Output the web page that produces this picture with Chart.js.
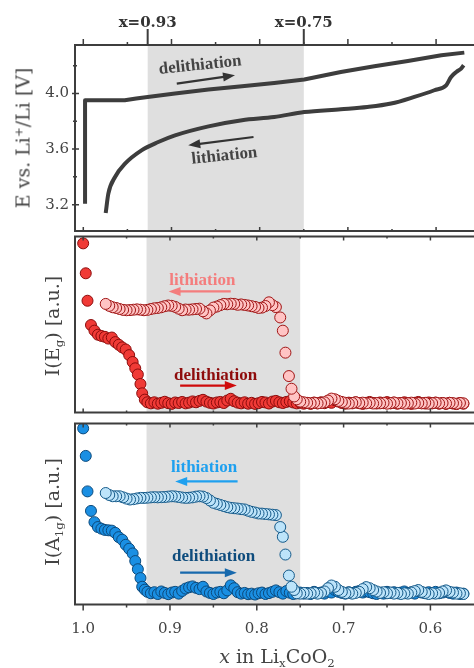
<!DOCTYPE html>
<html>
<head>
<meta charset="utf-8">
<script src="https://cdn.jsdelivr.net/npm/chart.js@4.4.0/dist/chart.umd.min.js"></script>
<style>
  body { margin: 0; width: 474px; height: 668px; overflow: hidden; background: #fff; position: relative; }
  canvas { position: absolute; left: 0; }
  .title { position: absolute; font-family: 'DejaVu Serif', serif; font-size: 19px; color: #444; white-space: nowrap; line-height: 1; }
  .rot { transform: translate(-50%, -50%) rotate(-90deg); }
  .flat { transform: translate(-50%, -50%); }
  .title sub, .title sup { font-size: 0.62em; line-height: 0; }
</style>
</head>
<body>
<canvas id="chartE" width="489" height="232" style="top:0"></canvas>
<canvas id="chartEg" width="489" height="189" style="top:230px"></canvas>
<canvas id="chartA1g" width="489" height="251" style="top:417px"></canvas>

<div class="title rot" style="left:23px;top:138px">E vs. Li<sup>+</sup>/Li [V]</div>
<div class="title rot" style="left:52px;top:326px">I(E<sub>g</sub>) [a.u.]</div>
<div class="title rot" style="left:52px;top:512px">I(A<sub>1g</sub>) [a.u.]</div>
<div class="title flat" style="left:277px;top:656px"><i>x</i> in Li<sub>x</sub>CoO<sub>2</sub></div>

<script>
// axis ticks
const xTickValues = [1.0, 0.9, 0.8, 0.7, 0.6];
const xMinorValues = [0.95, 0.85, 0.75, 0.65];
const markerValues = [0.927, 0.75];
const markerLabels = ['x=0.93', 'x=0.75'];
const eTickValues = [3.2, 3.6, 4.0];
const eMinorValues = [3.4, 3.8, 4.2];

// voltage curves
const delithVx = [0.998, 0.998, 0.975, 0.953, 0.940, 0.927, 0.896, 0.858, 0.820, 0.7835, 0.7495, 0.708, 0.670, 0.632, 0.594, 0.568];
const delithV = [3.207, 3.952, 3.952, 3.952, 3.965, 3.976, 4.000, 4.029, 4.053, 4.077, 4.101, 4.156, 4.197, 4.235, 4.276, 4.295];
const lithVx = [0.5687, 0.5716, 0.577, 0.583, 0.5886, 0.602, 0.6246, 0.651, 0.678, 0.708, 0.7495, 0.7835, 0.820, 0.858, 0.896, 0.915, 0.934, 0.9527, 0.964, 0.9716, 0.9746];
const lithV = [4.204, 4.180, 4.156, 4.120, 4.060, 4.024, 3.976, 3.928, 3.903, 3.887, 3.867, 3.831, 3.808, 3.764, 3.699, 3.651, 3.591, 3.495, 3.399, 3.279, 3.139];

// Raman intensities, delithiation (x decreasing)
const delithX = [1.000, 0.997, 0.995, 0.991, 0.987, 0.983, 0.979, 0.975, 0.971, 0.967, 0.963, 0.959, 0.955, 0.951, 0.947, 0.943, 0.940, 0.937, 0.934, 0.932, 0.929, 0.926,
  0.922, 0.918, 0.914, 0.910, 0.906, 0.902, 0.898, 0.894, 0.890,
  0.886, 0.882, 0.878, 0.874, 0.870, 0.866, 0.862, 0.858, 0.854,
  0.850, 0.846, 0.842, 0.838, 0.834, 0.830, 0.826, 0.822, 0.818,
  0.814, 0.810, 0.806, 0.802, 0.798, 0.794, 0.790, 0.786, 0.782,
  0.778, 0.774, 0.770, 0.766, 0.762, 0.758, 0.754, 0.750, 0.746,
  0.742, 0.738, 0.734, 0.730, 0.726, 0.722, 0.718, 0.714, 0.710,
  0.706, 0.702, 0.698, 0.694, 0.690, 0.686, 0.682, 0.678, 0.674,
  0.670, 0.666, 0.662, 0.658, 0.654, 0.650, 0.646, 0.642, 0.638,
  0.634, 0.630, 0.626, 0.622, 0.618, 0.614, 0.610, 0.606, 0.602,
  0.598, 0.594, 0.590, 0.586, 0.582, 0.578, 0.574, 0.570, 0.566,
  0.562];
const egDelith = [0.961, 0.791, 0.635, 0.497, 0.465, 0.442, 0.435, 0.430, 0.420, 0.426, 0.400, 0.385, 0.370, 0.358, 0.326, 0.287, 0.251, 0.216, 0.162, 0.109, 0.073, 0.058,
  0.052, 0.058, 0.050, 0.055, 0.061, 0.053, 0.049, 0.057, 0.054,
  0.060, 0.052, 0.056, 0.063, 0.058, 0.066, 0.072, 0.062, 0.055,
  0.051, 0.057, 0.060, 0.054, 0.068, 0.078, 0.064, 0.056, 0.052,
  0.058, 0.050, 0.055, 0.049, 0.053, 0.060, 0.057, 0.051, 0.062,
  0.066, 0.058, 0.054, 0.060, 0.064, 0.057, 0.052, 0.056, 0.050,
  0.054, 0.049, 0.056, 0.052, 0.058, 0.053, 0.060, 0.055, 0.070,
  0.062, 0.054, 0.050, 0.056, 0.052, 0.058, 0.053, 0.049, 0.055,
  0.060, 0.054, 0.051, 0.057, 0.053, 0.059, 0.052, 0.056, 0.050,
  0.054, 0.058, 0.052, 0.049, 0.055, 0.060, 0.053, 0.051, 0.057,
  0.052, 0.056, 0.050, 0.054, 0.049, 0.055, 0.051, 0.048, 0.053,
  0.050];
const a1gDelith = [0.973, 0.821, 0.625, 0.517, 0.455, 0.428, 0.419, 0.412, 0.410, 0.408, 0.396, 0.372, 0.358, 0.330, 0.308, 0.282, 0.240, 0.195, 0.146, 0.098, 0.082, 0.070,
  0.062, 0.068, 0.058, 0.072, 0.064, 0.057, 0.066, 0.070, 0.060,
  0.075, 0.088, 0.095, 0.100, 0.092, 0.085, 0.098, 0.072, 0.064,
  0.058, 0.066, 0.070, 0.062, 0.078, 0.106, 0.090, 0.068, 0.060,
  0.064, 0.057, 0.060, 0.055, 0.062, 0.066, 0.058, 0.063, 0.070,
  0.078, 0.068, 0.060, 0.074, 0.065, 0.058, 0.062, 0.066, 0.060,
  0.064, 0.058, 0.070, 0.062, 0.066, 0.060, 0.072, 0.066, 0.080,
  0.070, 0.064, 0.060, 0.068, 0.062, 0.070, 0.075, 0.066, 0.072,
  0.068, 0.062, 0.058, 0.066, 0.060, 0.070, 0.064, 0.068, 0.062,
  0.066, 0.072, 0.064, 0.068, 0.060, 0.074, 0.066, 0.062, 0.068,
  0.064, 0.070, 0.062, 0.066, 0.072, 0.064, 0.060, 0.066, 0.058,
  0.060];

// Raman intensities, lithiation (x increasing)
const lithX = [0.562, 0.566, 0.570, 0.574, 0.578, 0.582, 0.586, 0.590, 0.594,
  0.598, 0.602, 0.606, 0.610, 0.614, 0.618, 0.622, 0.626, 0.630,
  0.634, 0.638, 0.642, 0.646, 0.650, 0.654, 0.658, 0.662, 0.666,
  0.670, 0.674, 0.678, 0.682, 0.686, 0.690, 0.694, 0.698, 0.702,
  0.706, 0.710, 0.714, 0.718, 0.722, 0.726, 0.730, 0.734, 0.738,
  0.742, 0.746, 0.750,
  0.754, 0.757, 0.760, 0.763, 0.767, 0.770, 0.773,
  0.778, 0.782, 0.786, 0.790, 0.794, 0.798, 0.802, 0.806, 0.810, 0.814,
  0.818, 0.822, 0.826, 0.830, 0.834, 0.838, 0.842, 0.846, 0.850, 0.854,
  0.858, 0.862, 0.866, 0.870, 0.874, 0.878, 0.882, 0.886, 0.890, 0.894,
  0.898, 0.902, 0.906, 0.910, 0.914, 0.918, 0.922, 0.926, 0.930, 0.934,
  0.938, 0.942, 0.946, 0.950, 0.954, 0.958, 0.962, 0.966, 0.970, 0.974];
const egLith = [0.052, 0.054, 0.050, 0.053, 0.055, 0.051, 0.054, 0.052, 0.056,
  0.053, 0.050, 0.055, 0.052, 0.054, 0.051, 0.056, 0.053, 0.050,
  0.054, 0.052, 0.057, 0.053, 0.050, 0.055, 0.052, 0.054, 0.051,
  0.055, 0.052, 0.056, 0.053, 0.058, 0.054, 0.051, 0.055, 0.060,
  0.066, 0.075, 0.079, 0.068, 0.058, 0.054, 0.052, 0.056, 0.053,
  0.055, 0.058, 0.062,
  0.075, 0.091, 0.135, 0.207, 0.340, 0.465, 0.540,
  0.599, 0.610, 0.626, 0.605, 0.596, 0.594, 0.600, 0.604, 0.608, 0.611,
  0.614, 0.612, 0.617, 0.618, 0.615, 0.617, 0.610, 0.602, 0.596, 0.580,
  0.563, 0.575, 0.590, 0.588, 0.586, 0.584, 0.585, 0.581, 0.590, 0.600,
  0.606, 0.608, 0.604, 0.598, 0.594, 0.592, 0.588, 0.583, 0.581, 0.584,
  0.586, 0.584, 0.582, 0.581, 0.583, 0.588, 0.594, 0.598, 0.606, 0.617];
const a1gLith = [0.058, 0.062, 0.060, 0.066, 0.070, 0.078, 0.072, 0.064, 0.060,
  0.062, 0.058, 0.064, 0.070, 0.080, 0.074, 0.066, 0.060, 0.062,
  0.058, 0.064, 0.060, 0.066, 0.062, 0.068, 0.064, 0.072, 0.080,
  0.090, 0.096, 0.085, 0.070, 0.064, 0.060, 0.066, 0.062, 0.070,
  0.080, 0.098, 0.105, 0.090, 0.072, 0.064, 0.060, 0.066, 0.062,
  0.060, 0.064, 0.060,
  0.062, 0.080, 0.098, 0.160, 0.276, 0.374, 0.428,
  0.494, 0.496, 0.498, 0.500, 0.502, 0.503, 0.508, 0.512, 0.518, 0.525,
  0.527, 0.530, 0.532, 0.534, 0.538, 0.544, 0.550, 0.556, 0.562, 0.575,
  0.588, 0.596, 0.598, 0.596, 0.592, 0.590, 0.589, 0.591, 0.594, 0.597,
  0.598, 0.596, 0.594, 0.593, 0.592, 0.593, 0.592, 0.590, 0.589, 0.589,
  0.586, 0.582, 0.580, 0.585, 0.592, 0.598, 0.598, 0.598, 0.605, 0.616];

const xMin = 0.54;
const xMax = 1.0094;
const ink = '#3d3d3d';
const serif = "'DejaVu Serif', serif";
const noteFont = "bold 17px 'Liberation Serif', serif";

const toPoints = (xs, ys) => xs.map((x, i) => ({x: x, y: ys[i]}));

function drawArrow(ctx, x0, y0, x1, y1, color) {
    const ang = Math.atan2(y1 - y0, x1 - x0);
    const len = 12, half = 4.5;
    ctx.save();
    ctx.strokeStyle = color;
    ctx.fillStyle = color;
    ctx.lineWidth = 2.2;
    ctx.beginPath();
    ctx.moveTo(x0, y0);
    ctx.lineTo(x1 - Math.cos(ang) * len * 0.8, y1 - Math.sin(ang) * len * 0.8);
    ctx.stroke();
    ctx.beginPath();
    ctx.moveTo(x1, y1);
    ctx.lineTo(x1 - Math.cos(ang) * len - Math.sin(ang) * half, y1 - Math.sin(ang) * len + Math.cos(ang) * half);
    ctx.lineTo(x1 - Math.cos(ang) * len + Math.sin(ang) * half, y1 - Math.sin(ang) * len - Math.cos(ang) * half);
    ctx.closePath();
    ctx.fill();
    ctx.restore();
}

const panelDecor = {
    id: 'panelDecor',
    beforeDatasetsDraw(chart) {
        const {ctx, chartArea: a, scales: {x}} = chart;
        const b0 = x.getPixelForValue(markerValues[0]);
        const b1 = x.getPixelForValue(markerValues[1]);
        ctx.save();
        ctx.fillStyle = '#dfdfdf';
        ctx.fillRect(b0, a.top, b1 - b0, a.bottom - a.top);
        ctx.restore();
    },
    afterDatasetsDraw(chart, args, o) {
        const {ctx, chartArea: a, scales: {x, y}} = chart;
        ctx.save();
        ctx.strokeStyle = ink;
        ctx.lineWidth = 2;
        ctx.beginPath();
        ctx.moveTo(a.left, a.top); ctx.lineTo(a.right, a.top);
        ctx.moveTo(a.left, a.bottom); ctx.lineTo(a.right, a.bottom);
        ctx.moveTo(a.left, a.top - 1); ctx.lineTo(a.left, a.bottom + 1);
        ctx.stroke();

        ctx.lineWidth = 1.5;
        ctx.beginPath();
        const mark = (px, y0, y1) => { ctx.moveTo(px, y0); ctx.lineTo(px, y1); };
        xTickValues.forEach(v => {
            const px = x.getPixelForValue(v);
            mark(px, a.top, o.topOut ? a.top - 6 : a.top + 4);
            mark(px, a.bottom, o.bottomOut ? a.bottom + 6 : a.bottom - 4);
        });
        xMinorValues.forEach(v => {
            const px = x.getPixelForValue(v);
            mark(px, a.top, o.topOut ? a.top - 3 : a.top + 2);
            mark(px, a.bottom, o.bottomOut ? a.bottom + 3 : a.bottom - 2);
        });
        if (o.yTicks) {
            eTickValues.forEach(v => {
                const py = y.getPixelForValue(v);
                ctx.moveTo(a.left - 3, py); ctx.lineTo(a.left + 4, py);
            });
            eMinorValues.forEach(v => {
                const py = y.getPixelForValue(v);
                ctx.moveTo(a.left - 2, py); ctx.lineTo(a.left + 2, py);
            });
        }
        ctx.stroke();
        if (o.topOut) {
            ctx.lineWidth = 2;
            ctx.beginPath();
            markerValues.forEach(v => mark(x.getPixelForValue(v), a.top, a.top - 16));
            ctx.stroke();
        }

        (o.notes || []).forEach(n => {
            ctx.save();
            ctx.translate(x.getPixelForValue(n.at[0]), y.getPixelForValue(n.at[1]));
            ctx.rotate((n.angle || 0) * Math.PI / 180);
            ctx.font = noteFont;
            ctx.fillStyle = n.color;
            ctx.textAlign = 'center';
            ctx.textBaseline = 'middle';
            ctx.fillText(n.text, 0, 0);
            ctx.restore();
        });
        (o.arrows || []).forEach(r => {
            drawArrow(ctx, x.getPixelForValue(r.from[0]), y.getPixelForValue(r.from[1]),
                x.getPixelForValue(r.to[0]), y.getPixelForValue(r.to[1]), r.color);
        });
        ctx.restore();
    }
};

const xHidden = {type: 'linear', reverse: true, min: xMin, max: xMax, display: false};
const zeroPad = (s) => { s.paddingLeft = 0; s.paddingRight = 0; s.paddingTop = 0; s.paddingBottom = 0; };

function makeChart(id, datasets, scales, padding, decor) {
    return new Chart(document.getElementById(id), {
        type: 'scatter',
        data: {datasets: datasets},
        options: {
            responsive: false,
            animation: false,
            events: [],
            layout: {padding: padding},
            plugins: {
                legend: {display: false},
                tooltip: {enabled: false},
                panelDecor: decor
            },
            scales: scales
        },
        plugins: [panelDecor]
    });
}

function dots(data, fill, edge, order) {
    return {
        data: data,
        order: order,
        pointRadius: 5.5,
        pointBorderWidth: 1,
        pointBackgroundColor: fill,
        pointBorderColor: edge,
        showLine: false
    };
}

// voltage panel
makeChart('chartE', [
    {data: toPoints(delithVx, delithV), showLine: true, pointRadius: 0, borderColor: ink, borderWidth: 4, borderJoinStyle: 'round'},
    {data: toPoints(lithVx, lithV), showLine: true, pointRadius: 0, borderColor: ink, borderWidth: 4, borderJoinStyle: 'round', cubicInterpolationMode: 'monotone'}
], {
    x: xHidden,
    xt: {
        type: 'linear', position: 'top', reverse: true, min: xMin, max: xMax,
        afterBuildTicks: (s) => { s.ticks = markerValues.map(v => ({value: v})); },
        afterFit: (s) => { zeroPad(s); s.height = 45; },
        ticks: {
            callback: (v, i) => markerLabels[i],
            font: {family: serif, size: 15, weight: 'bold'},
            color: '#333', padding: 13, maxRotation: 0, autoSkip: false
        },
        grid: {display: false, drawTicks: false},
        border: {display: false}
    },
    y: {
        type: 'linear', min: 3.01, max: 4.35,
        afterBuildTicks: (s) => { s.ticks = eTickValues.map(v => ({value: v})); },
        afterFit: (s) => { zeroPad(s); s.width = 75; },
        ticks: {
            callback: (v) => v.toFixed(1),
            font: {family: serif, size: 15},
            color: '#444', padding: 6
        },
        grid: {display: false, drawTicks: false},
        border: {display: false}
    }
}, {left: 0, top: 0, right: 0, bottom: 1}, {
    topOut: true, yTicks: true,
    notes: [
        {text: 'delithiation', at: [0.8675, 4.204], color: '#444', angle: -6},
        {text: 'lithiation', at: [0.840, 3.550], color: '#444', angle: -6}
    ],
    arrows: [
        {from: [0.894, 4.072], to: [0.828, 4.132], color: '#333'},
        {from: [0.807, 3.687], to: [0.881, 3.627], color: '#333'}
    ]
});

// E_g panel
makeChart('chartEg', [
    dots(toPoints(delithX, egDelith), '#f03a36', '#8c0c0c', 2),
    dots(toPoints(lithX, egLith), '#ffc4c4', '#a01515', 1)
], {
    x: xHidden,
    y: {type: 'linear', min: 0, max: 1, display: false}
}, {left: 75, top: 1, right: 0, bottom: 1}, {
    notes: [
        {text: 'lithiation', at: [0.8627, 0.747], color: '#f47d7d'},
        {text: 'delithiation', at: [0.8474, 0.2085], color: '#8e0b0b'}
    ],
    arrows: [
        {from: [0.830, 0.688], to: [0.9016, 0.688], color: '#f47d7d'},
        {from: [0.8883, 0.153], to: [0.823, 0.153], color: '#cf0a0a'}
    ]
});

// A_1g panel
makeChart('chartA1g', [
    dots(toPoints(delithX, a1gDelith), '#1a8fe3', '#0c4a7c', 2),
    dots(toPoints(lithX, a1gLith), '#bde4fa', '#155a8a', 1)
], {
    x: {
        type: 'linear', position: 'bottom', reverse: true, min: xMin, max: xMax,
        afterBuildTicks: (s) => { s.ticks = xTickValues.map(v => ({value: v})); },
        afterFit: (s) => { zeroPad(s); s.height = 63.5; },
        ticks: {
            callback: (v) => v.toFixed(1),
            font: {family: serif, size: 15},
            color: '#444', padding: 16, maxRotation: 0, autoSkip: false
        },
        grid: {display: false, drawTicks: false},
        border: {display: false}
    },
    y: {type: 'linear', min: 0, max: 1, display: false}
}, {left: 75, top: 1, right: 0, bottom: 0}, {
    bottomOut: true,
    notes: [
        {text: 'lithiation', at: [0.8607, 0.757], color: '#1ea0ef'},
        {text: 'delithiation', at: [0.8497, 0.262], color: '#0e4c7d'}
    ],
    arrows: [
        {from: [0.8221, 0.680], to: [0.894, 0.680], color: '#1ea0ef'},
        {from: [0.8883, 0.176], to: [0.823, 0.176], color: '#1769ad'}
    ]
});
</script>
</body>
</html>
